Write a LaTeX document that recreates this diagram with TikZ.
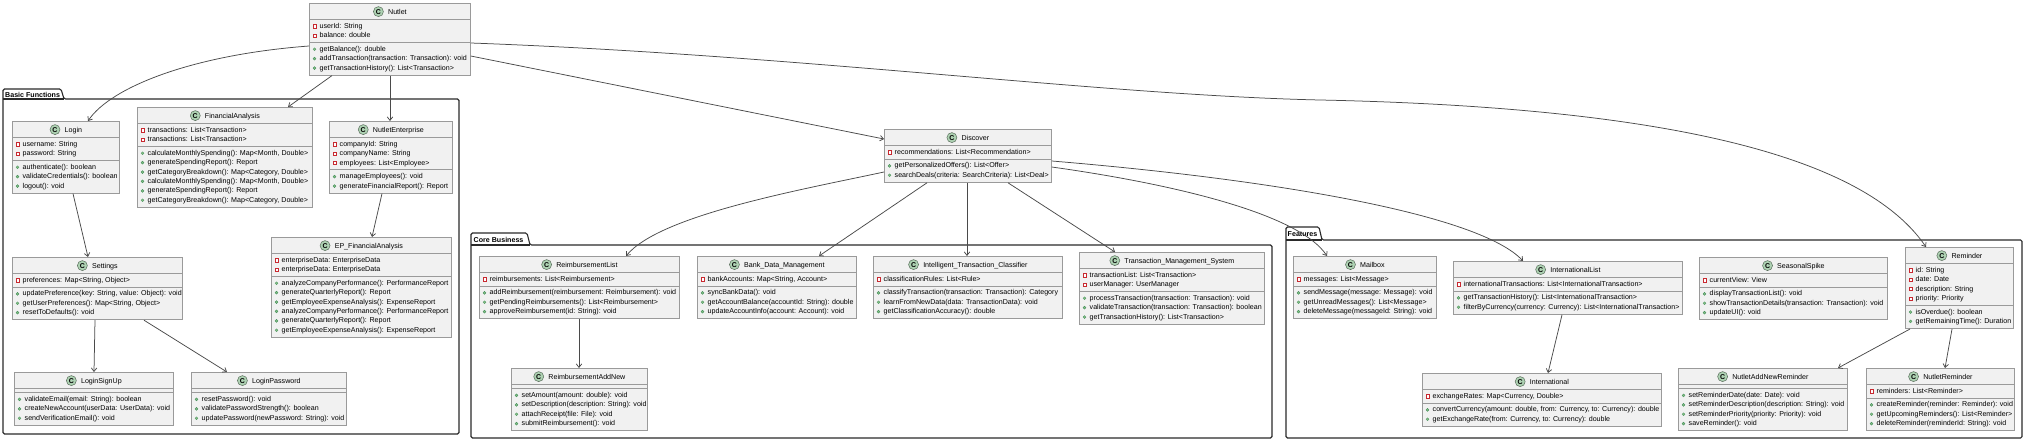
\documentclass[tikz,border=0pt]{standalone}
\usepackage{fontspec}
\setmainfont{Liberation Sans}
\usetikzlibrary{arrows.meta}
\definecolor{boxfill}{HTML}{F1F1F1}
\definecolor{boxline}{HTML}{9A9A9A}
\definecolor{iconfill}{HTML}{ADD1B2}
\definecolor{iconline}{HTML}{5A6E5C}
\definecolor{privred}{HTML}{C82930}
\definecolor{pubgreen}{HTML}{84BE84}
\definecolor{publine}{HTML}{3C8A55}
\definecolor{edgec}{HTML}{4A4A4A}
\definecolor{pkgc}{HTML}{2A2A2A}
\newcommand\rs{\rule[-3.2pt]{0pt}{9.4pt}}
\tikzset{
 cls/.style={draw=boxline, fill=boxfill, line width=0.8pt, inner sep=0pt, rectangle},
 clsline/.style={draw=boxline, line width=0.8pt},
 ttl/.style={inner sep=0pt, font=\fontsize{7.1}{8}\selectfont, text height=5.2pt, text depth=0pt},
 cicon/.style={circle, draw=iconline, fill=iconfill, line width=0.5pt, minimum size=10pt, inner sep=0pt, font=\fontsize{7}{7}\selectfont\bfseries},
 mem/.style={inner sep=0pt, align=left, font=\fontsize{7.1}{9.4}\selectfont},
 privmark/.style={draw=privred, fill=white, line width=0.5pt},
 pubmark/.style={draw=publine, fill=pubgreen, line width=0.3pt},
 arr/.style={draw=edgec, line width=0.75pt, -{Straight Barb[length=3.5pt,width=5.5pt]}},
 pkg/.style={draw=pkgc, line width=1.1pt, rounded corners=1.5pt},
 pkgtitle/.style={inner sep=0pt, anchor=west, font=\fontsize{7.1}{8}\selectfont\bfseries},
}
\newcommand\umlclass[9]{%
  \pgfmathsetmacro\secA{4.15+9.4*#5}%
  \pgfmathsetmacro\secM{4.15+9.4*#6}%
  \pgfmathsetmacro\boxH{16.5+\secA+\secM}%
  \pgfmathsetmacro\divB{-16.5-\secA}%
  \node[cls, minimum width=#4pt, minimum height=\boxH pt, anchor=north west] (#1) at (#2,#3) {};
  \draw[clsline] ([yshift=-16.5pt]#1.north west) -- ([yshift=-16.5pt]#1.north east);
  \draw[clsline] ([yshift=\divB pt]#1.north west) -- ([yshift=\divB pt]#1.north east);
  \node[ttl] (#1-t) at ([xshift=7.5pt,yshift=-8.6pt]#1.north) {#7};
  \node[cicon] (#1-c) at ([xshift=-9.5pt]#1-t.west) {C};
  \ifnum#5>0
    \node[mem, anchor=north west] (#1-a) at ([xshift=10.5pt,yshift=-19pt]#1.north west) {#8};
    \foreach \i in {1,...,#5}{%
      \pgfmathsetmacro\yy{-16.5-2.5-4.3-9.4*(\i-1)}%
      \draw[privmark] ([xshift=5.5pt,yshift=\yy pt]#1.north west) +(-1.6pt,-1.6pt) rectangle +(1.6pt,1.6pt);
    }%
  \fi
  \pgfmathsetmacro\mtop{\divB-2.5}%
  \node[mem, anchor=north west] (#1-m) at ([xshift=10.5pt,yshift=\mtop pt]#1.north west) {#9};
  \foreach \i in {1,...,#6}{%
    \pgfmathsetmacro\yy{\divB-2.5-4.3-9.4*(\i-1)}%
    \filldraw[pubmark] ([xshift=5.5pt,yshift=\yy pt]#1.north west) circle (1.5pt);
  }%
}
\begin{document}
\begin{tikzpicture}[x=1pt, y=-1pt]
\fill[white] (0,0) rectangle (2025,441);
\useasboundingbox (0,0) rectangle (2025,441);

% packages
\draw[pkg] (3,89) -- (61,89) -- (64,99) -- (459,99) -- (459,434) -- (3,434) -- cycle;
\draw[pkgc, line width=1.1pt] (3,99) -- (64,99);
\node[pkgtitle] (pk1) at (5,94.5) {Basic Functions};
\draw[pkg] (471,233) -- (527,233) -- (530,245) -- (1272,245) -- (1272,438) -- (471,438) -- cycle;
\draw[pkgc, line width=1.1pt] (471,245) -- (530,245);
\node[pkgtitle] (pk2) at (473.5,239.5) {Core Business};
\draw[pkg] (1286,227) -- (1319,227) -- (1322,240) -- (2022,240) -- (2022,438) -- (1286,438) -- cycle;
\draw[pkgc, line width=1.1pt] (1286,240) -- (1322,240);
\node[pkgtitle] (pk3) at (1287.5,234) {Features};

% classes
\umlclass{nutlet}{309}{3}{161}{2}{3}{Nutlet}
 {\rs userId: String\\\rs balance: double}
 {\rs getBalance(): double\\\rs addTransaction(transaction: Transaction): void\\\rs getTransactionHistory(): List<Transaction>}
\umlclass{login}{12}{121}{107}{2}{3}{Login}
 {\rs username: String\\\rs password: String}
 {\rs authenticate(): boolean\\\rs validateCredentials(): boolean\\\rs logout(): void}
\umlclass{fin}{137}{107}{175}{2}{6}{FinancialAnalysis}
 {\rs transactions: List<Transaction>\\\rs transactions: List<Transaction>}
 {\rs calculateMonthlySpending(): Map<Month, Double>\\\rs generateSpendingReport(): Report\\\rs getCategoryBreakdown(): Map<Category, Double>\\\rs calculateMonthlySpending(): Map<Month, Double>\\\rs generateSpendingReport(): Report\\\rs getCategoryBreakdown(): Map<Category, Double>}
\umlclass{ent}{329}{121}{123}{3}{2}{NutletEnterprise}
 {\rs companyId: String\\\rs companyName: String\\\rs employees: List<Employee>}
 {\rs manageEmployees(): void\\\rs generateFinancialReport(): Report}
\umlclass{ep}{271}{237}{180}{2}{6}{EP\_FinancialAnalysis}
 {\rs enterpriseData: EnterpriseData\\\rs enterpriseData: EnterpriseData}
 {\rs analyzeCompanyPerformance(): PerformanceReport\\\rs generateQuarterlyReport(): Report\\\rs getEmployeeExpenseAnalysis(): ExpenseReport\\\rs analyzeCompanyPerformance(): PerformanceReport\\\rs generateQuarterlyReport(): Report\\\rs getEmployeeExpenseAnalysis(): ExpenseReport}
\umlclass{settings}{12}{257}{170}{1}{3}{Settings}
 {\rs preferences: Map<String, Object>}
 {\rs updatePreference(key: String, value: Object): void\\\rs getUserPreferences(): Map<String, Object>\\\rs resetToDefaults(): void}
\umlclass{signup}{14}{372}{159}{0}{3}{LoginSignUp}
 {}
 {\rs validateEmail(email: String): boolean\\\rs createNewAccount(userData: UserData): void\\\rs sendVerificationEmail(): void}
\umlclass{pw}{191}{372}{155}{0}{3}{LoginPassword}
 {}
 {\rs resetPassword(): void\\\rs validatePasswordStrength(): boolean\\\rs updatePassword(newPassword: String): void}
\umlclass{disc}{884}{129}{167}{1}{2}{Discover}
 {\rs recommendations: List<Recommendation>}
 {\rs getPersonalizedOffers(): List<Offer>\\\rs searchDeals(criteria: SearchCriteria): List<Deal>}
\umlclass{reimb}{479}{256}{200}{1}{3}{ReimbursementList}
 {\rs reimbursements: List<Reimbursement>}
 {\rs addReimbursement(reimbursement: Reimbursement): void\\\rs getPendingReimbursements(): List<Reimbursement>\\\rs approveReimbursement(id: String): void}
\umlclass{bank}{697}{256}{159}{1}{3}{Bank\_Data\_Management}
 {\rs bankAccounts: Map<String, Account>}
 {\rs syncBankData(): void\\\rs getAccountBalance(accountId: String): double\\\rs updateAccountInfo(account: Account): void}
\umlclass{reimbnew}{511}{368}{136}{0}{4}{ReimbursementAddNew}
 {}
 {\rs setAmount(amount: double): void\\\rs setDescription(description: String): void\\\rs attachReceipt(file: File): void\\\rs submitReimbursement(): void}
\umlclass{itc}{873}{256}{189}{1}{3}{Intelligent\_Transaction\_Classifier}
 {\rs classificationRules: List<Rule>}
 {\rs classifyTransaction(transaction: Transaction): Category\\\rs learnFromNewData(data: TransactionData): void\\\rs getClassificationAccuracy(): double}
\umlclass{tms}{1079}{252}{185}{2}{3}{Transaction\_Management\_System}
 {\rs transactionList: List<Transaction>\\\rs userManager: UserManager}
 {\rs processTransaction(transaction: Transaction): void\\\rs validateTransaction(transaction: Transaction): boolean\\\rs getTransactionHistory(): List<Transaction>}
\umlclass{mail}{1293}{256}{143}{1}{3}{Mailbox}
 {\rs messages: List<Message>}
 {\rs sendMessage(message: Message): void\\\rs getUnreadMessages(): List<Message>\\\rs deleteMessage(messageId: String): void}
\umlclass{intl}{1453}{261}{229}{1}{2}{InternationalList}
 {\rs internationalTransactions: List<InternationalTransaction>}
 {\rs getTransactionHistory(): List<InternationalTransaction>\\\rs filterByCurrency(currency: Currency): List<InternationalTransaction>}
\umlclass{spike}{1699}{257}{188}{1}{3}{SeasonalSpike}
 {\rs currentView: View}
 {\rs displayTransactionList(): void\\\rs showTransactionDetails(transaction: Transaction): void\\\rs updateUI(): void}
\umlclass{rem}{1905}{247}{108}{4}{2}{Reminder}
 {\rs id: String\\\rs date: Date\\\rs description: String\\\rs priority: Priority}
 {\rs isOverdue(): boolean\\\rs getRemainingTime(): Duration}
\umlclass{intc}{1422}{373}{239}{1}{2}{International}
 {\rs exchangeRates: Map<Currency, Double>}
 {\rs convertCurrency(amount: double, from: Currency, to: Currency): double\\\rs getExchangeRate(from: Currency, to: Currency): double}
\umlclass{addrem}{1678}{368}{169}{0}{4}{NutletAddNewReminder}
 {}
 {\rs setReminderDate(date: Date): void\\\rs setReminderDescription(description: String): void\\\rs setReminderPriority(priority: Priority): void\\\rs saveReminder(): void}
\umlclass{nrem}{1866}{368}{148}{1}{3}{NutletReminder}
 {\rs reminders: List<Reminder>}
 {\rs createReminder(reminder: Reminder): void\\\rs getUpcomingReminders(): List<Reminder>\\\rs deleteReminder(reminderId: String): void}

% connectors
\draw[arr] ([yshift=-43pt]nutlet.north west) .. controls (190,55) and (110,88) .. ([xshift=76pt]login.north west);
\draw[arr] ([xshift=23pt]nutlet.south west) -- ([xshift=151pt]fin.north west);
\draw[arr] ([xshift=81pt]nutlet.south west) -- ([xshift=61pt]ent.north west);
\draw[arr] ([yshift=-53pt]nutlet.north east) -- ([yshift=-10pt]disc.north west);
\draw[arr] ([yshift=-40pt]nutlet.north east) .. controls (800,55) and (1100,95) .. (1320,100) .. controls (1700,108) and (1870,165) .. ([xshift=21pt]rem.north west);
\draw[arr] ([yshift=-43pt]disc.north west) .. controls (800,190) and (660,215) .. ([xshift=147pt]reimb.north west);
\draw[arr] ([xshift=43pt]disc.south west) -- ([xshift=122pt]bank.north west);
\draw[arr] ([xshift=83pt]disc.south west) -- ([xshift=94pt]itc.north west);
\draw[arr] ([xshift=124pt]disc.south west) -- ([xshift=36pt]tms.north west);
\draw[arr] ([yshift=-38pt]disc.north east) .. controls (1180,185) and (1300,215) .. ([xshift=34pt]mail.north west);
\draw[arr] ([yshift=-32pt]disc.north east) .. controls (1280,180) and (1480,215) .. ([xshift=70pt]intl.north west);
\draw[arr] ([xshift=61pt]login.south west) -- ([xshift=76pt]settings.north west);
\draw[arr] ([xshift=83pt]settings.south west) -- ([xshift=80pt]signup.north west);
\draw[arr] ([xshift=132pt]settings.south west) -- ([xshift=36pt]pw.north west);
\draw[arr] ([xshift=53pt]ent.south west) -- ([xshift=101pt]ep.north west);
\draw[arr] ([xshift=100pt]reimb.south west) -- ([xshift=68pt]reimbnew.north west);
\draw[arr] ([xshift=109pt]intl.south west) -- ([xshift=126pt]intc.north west);
\draw[arr] ([xshift=5pt]rem.south west) -- ([xshift=160pt]addrem.north west);
\draw[arr] ([xshift=47pt]rem.south west) -- ([xshift=79pt]nrem.north west);
\end{tikzpicture}
\end{document}
